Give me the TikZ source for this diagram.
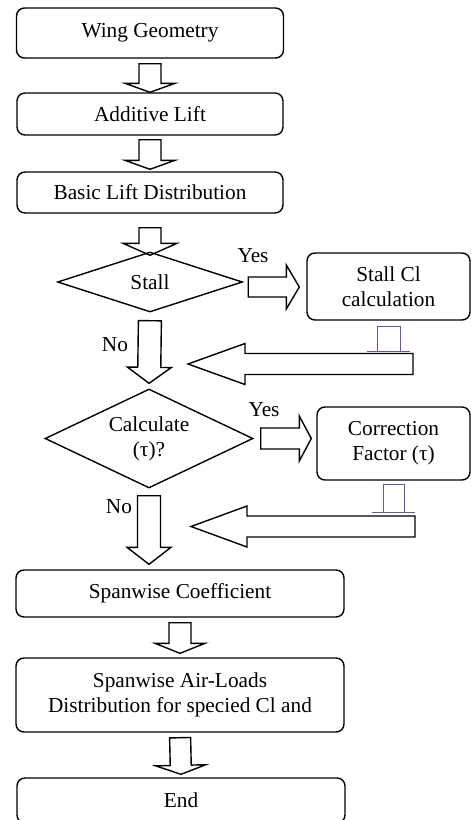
\documentclass[tikz,border=0pt]{standalone}
\usepackage{fontspec}
\setmainfont{Liberation Serif}
\usetikzlibrary{shapes.geometric,calc}

\definecolor{tabpurple}{RGB}{112,82,160}

% hollow block arrow between two points
\tikzset{
  fa gap/.store in=\fagap, fa stop/.store in=\fastop,
  fa shaft/.store in=\fashaft, fa wing/.store in=\fawing,
  fa head/.store in=\fahead,
  fa gap=0pt, fa stop=0pt, fa shaft=11pt, fa wing=25pt, fa head=9pt
}
\newcommand\fatarrow[3][]{%
  \path (#2) coordinate (fa-a) (#3) coordinate (fa-b);
  \draw[fatarrow,#1] ($(fa-a)!\fagap!(fa-b)$) coordinate (fa-s)
    ($(fa-b)!\fastop!(fa-a)$) coordinate (fa-t)
    ($(fa-t)!\fahead!(fa-a)$) coordinate (fa-h)
    ($(fa-s)!\fashaft!90:(fa-t)$) -- ($(fa-h)!\fashaft!-90:(fa-a)$)
    -- ($(fa-h)!\fawing!-90:(fa-a)$) -- (fa-t)
    -- ($(fa-h)!\fawing!90:(fa-a)$) -- ($(fa-h)!\fashaft!90:(fa-a)$)
    -- ($(fa-s)!\fashaft!-90:(fa-t)$) -- cycle;}

\begin{document}
\begin{tikzpicture}[x=1pt, y=-1pt,
        font=\fontsize{21.3}{25}\selectfont,
        box/.style={draw, rounded corners=8pt, line width=1.4pt, inner sep=0pt, align=center},
        decision/.style={diamond, draw, aspect=2, line width=1.4pt, inner sep=0pt, align=center},
        fatarrow/.style={draw, line width=1.4pt, line join=miter},
        tabmark/.style={draw=tabpurple, line width=0.9pt}
    ]
    \useasboundingbox (0,0) rectangle (472,820);

    % --- main column ---
    \node[box, minimum width=267pt, minimum height=50pt] (wing) at (150,33) {Wing Geometry};
    \node[box, minimum width=266pt, minimum height=42pt] (add) at (150,114) {Additive Lift};
    \node[box, minimum width=266pt, minimum height=41pt] (basic) at (150,192.5) {Basic Lift Distribution};

    \fatarrow[fa gap=5pt]{wing.south}{add.north}
    \fatarrow[fa gap=4pt, fa stop=2pt]{add.south}{basic.north}

    % --- stall check ---
    \node[decision, minimum width=185pt, minimum height=60pt] (stall) at (150,282) {Stall};
    \node[box, minimum width=163pt, minimum height=67pt] (stallcl) at (388.5,286.5) {Stall Cl\\calculation};

    \fatarrow[fa gap=14pt, fa stop=-4pt, fa head=12pt, fa wing=27pt]{basic.south}{stall.north}

    \coordinate (yes1) at ([yshift=-5pt]stall.east);
    \fatarrow[fa gap=5pt, fa stop=7pt, fa shaft=10pt, fa wing=22pt, fa head=13pt]{yes1}{yes1 -| stallcl.west}
    \node (yes1lbl) at (253,256) {Yes};

    % return from stall Cl
    \draw[tabmark] (377,351) -- (377,326) -- (400,326) -- (400,351);
    \draw[tabmark] (367,351) -- (410,351);
    \coordinate (ret1s) at (413,364);
    \coordinate (ret1t) at (188,364);
    \fatarrow[fa shaft=10.5pt, fa wing=20.5pt, fa head=57pt]{ret1s}{ret1t}

    % --- tau check ---
    \node[decision, minimum width=208pt, minimum height=99pt] (calc) at (149,438.5) {Calculate\\(τ)?};
    \node[box, minimum width=153pt, minimum height=73pt] (corr) at (393.5,443.5) {Correction\\Factor (τ)};

    \fatarrow[fa gap=8pt, fa stop=5pt, fa shaft=11.5pt, fa wing=22pt, fa head=16pt]{stall.south}{calc.north}
    \node (no1lbl) at (115,345) {No};

    \fatarrow[fa gap=7pt, fa stop=5pt, fa shaft=10.5pt, fa wing=22.5pt, fa head=12pt]{calc.east}{calc.east -| corr.west}
    \node (yes2lbl) at (264,410) {Yes};

    % return from correction factor
    \draw[tabmark] (383,512) -- (383,484) -- (404,484) -- (404,512);
    \draw[tabmark] (372,512) -- (415,512);
    \coordinate (ret2s) at (415,526.5);
    \coordinate (ret2t) at (191,526.5);
    \fatarrow[fa shaft=10.5pt, fa wing=20.5pt, fa head=56pt]{ret2s}{ret2t}

    % --- output ---
    \node[box, minimum width=328pt, minimum height=47pt] (span) at (180,593.5) {Spanwise Coefficient};
    \node[box, minimum width=328pt, minimum height=74pt] (air) at (180,695) {Spanwise Air-Loads\\Distribution for specied Cl and};
    \node[box, minimum width=328pt, minimum height=45pt] (end) at (181,800.5) {End};

    \fatarrow[fa gap=7pt, fa stop=5pt, fa shaft=11.5pt, fa wing=22pt, fa head=17pt]{calc.south}{calc.south |- span.north}
    \node (no2lbl) at (119,507) {No};

    \fatarrow[fa gap=5pt, fa stop=4pt, fa head=10pt]{span.south}{air.north}
    \fatarrow[fa gap=5pt, fa stop=3pt, fa shaft=10.5pt]{air.south}{end.north}

\end{tikzpicture}
\end{document}
